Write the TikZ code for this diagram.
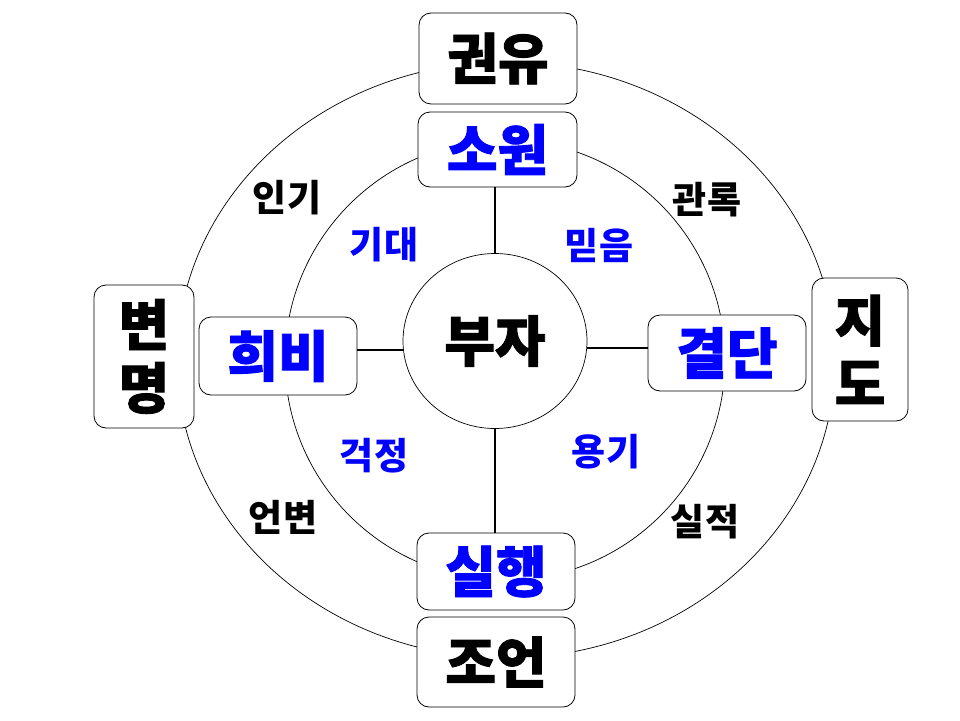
\documentclass[tikz,border=0pt]{standalone}
\usepackage{fontspec}
\usetikzlibrary{shapes.geometric}
\newfontfamily\kr{Noto Sans CJK KR}
\newfontfamily\krH{Noto Sans CJK KR}[BoldFeatures={FakeBold=1.6}]
\definecolor{kblue}{RGB}{0,0,255}
\tikzset{
  box/.style={draw, fill=white, rounded corners=12pt, inner sep=0pt, line width=0.8pt},
  bigtxt/.style={font=\krH\bfseries\fontsize{55}{63}\selectfont},
  smalltxt/.style={font=\kr\bfseries\fontsize{37}{40}\selectfont, inner sep=0pt},
  bluetxt/.style={font=\kr\bfseries\fontsize{37}{40}\selectfont, inner sep=0pt, text=kblue},
  ring/.style={line width=0.7pt},
  link/.style={line width=1.6pt},
}
\begin{document}
\begin{tikzpicture}[x=1pt,y=-1pt]
\fill[white] (0,0) rectangle (960,720);
\useasboundingbox (0,0) rectangle (960,720);
% rings
\draw[ring] (506,360) ellipse [x radius=329pt, y radius=298pt];
\draw[ring] (505,360) circle [radius=220pt];
% outer boxes
\node[box, bigtxt, minimum width=158pt, minimum height=91pt] (kwon) at (498,58.5) {권유};
\node[box, bigtxt, minimum width=158pt, minimum height=90pt] (joeon) at (496,662) {조언};
\node[box, bigtxt, minimum width=100pt, minimum height=143pt, align=center] (byeon) at (144,356.5) {변\\명};
\node[box, bigtxt, minimum width=96pt, minimum height=143pt, align=center] (jido) at (860,349.5) {지\\도};
% inner boxes
\node[box, bigtxt, text=kblue, minimum width=159pt, minimum height=75pt] (sowon) at (497.5,149.5) {소원};
\node[box, bigtxt, text=kblue, minimum width=158pt, minimum height=78pt] (hibi) at (278,356) {희비};
\node[box, bigtxt, text=kblue, minimum width=158pt, minimum height=76pt] (gyeol) at (727,353) {결단};
\node[box, bigtxt, text=kblue, minimum width=158pt, minimum height=77pt] (silhaeng) at (496,571.5) {실행};
% centre
\node[draw, ellipse, ring, fill=white, bigtxt, minimum width=184pt, minimum height=175pt, inner sep=0pt] (buja) at (495,341) {부자};
% links
\draw[link] (buja.north) -- (buja.north |- sowon.south);
\draw[link] (buja.south) -- (buja.south |- silhaeng.north);
\draw[link] ([yshift=6pt]hibi.east) -- ([yshift=6pt]hibi.east -| buja.west);
\draw[link] ([yshift=5pt]gyeol.west) -- ([yshift=5pt]gyeol.west -| buja.east);
% outer ring labels
\node[smalltxt] (ingi) at (287,198) {인기};
\node[smalltxt] (gwanrok) at (707,200) {관록};
\node[smalltxt] (eonbyeon) at (283,517) {언변};
\node[smalltxt] (siljeok) at (705,522) {실적};
% inner ring labels
\node[bluetxt] (gidae) at (384,245) {기대};
\node[bluetxt] (mideum) at (599,245) {믿음};
\node[bluetxt] (geokjeong) at (374,456) {걱정};
\node[bluetxt] (yonggi) at (606,452) {용기};
\end{tikzpicture}
\end{document}
